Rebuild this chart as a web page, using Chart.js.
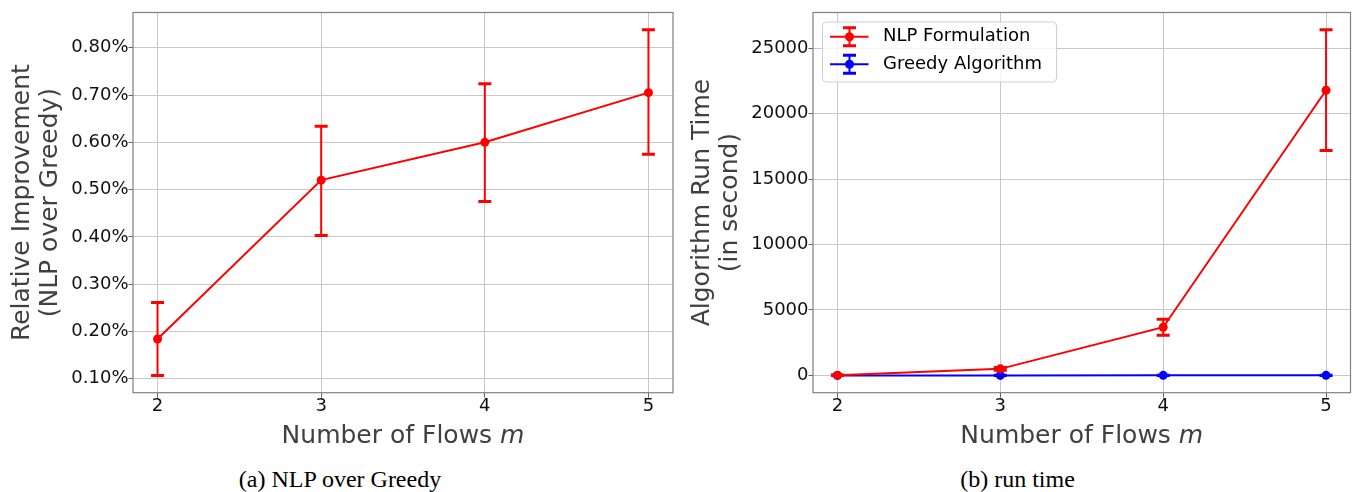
<!DOCTYPE html>
<html>
<head>
<meta charset="utf-8">
<script src="https://cdn.jsdelivr.net/npm/chart.js@4.4.0/dist/chart.umd.min.js"></script>
<style>
  body { margin: 0; background: #fff; width: 1355px; height: 492px; position: relative; overflow: hidden; }
  canvas { position: absolute; top: 0; }
  #improvement { left: 0; }
  #runtime { left: 680px; }
  .caption { position: absolute; top: 467px; line-height: 24px; font-family: 'Liberation Serif', serif; font-size: 24px; text-align: center; color: #000; }
</style>
</head>
<body>
<canvas id="improvement" width="680" height="455"></canvas>
<canvas id="runtime" width="675" height="455"></canvas>
<div class="caption" style="left:0;width:680px">(a) NLP over Greedy</div>
<div class="caption" style="left:680px;width:675px">(b) run time</div>
<script>
'use strict';

// number of flows m
const flows = [2, 3, 4, 5];

// (a) relative improvement, in percent
const improvement = [0.184, 0.520, 0.600, 0.705];
const improvementLow = [0.107, 0.403, 0.475, 0.575];
const improvementHigh = [0.261, 0.634, 0.724, 0.838];
const improvementTicks = [0.1, 0.2, 0.3, 0.4, 0.5, 0.6, 0.7, 0.8];

// (b) run time, seconds
const nlpTime = [15, 500, 3680, 21780];
const nlpLow = [0, 390, 3060, 17180];
const nlpHigh = [30, 610, 4290, 26400];
const greedyTime = [2, 3, 5, 8];
const greedyLow = [0, 0, 0, 0];
const greedyHigh = [4, 6, 10, 16];
const timeTicks = [0, 5000, 10000, 15000, 20000, 25000];

const FONT = 'DejaVu Sans';
const TITLE_COLOR = '#404040';
const xLabel = 'Number of Flows ';
const xVar = 'm';

function points(ys) {
    return flows.map((x, i) => ({ x: x, y: ys[i] }));
}

// vertical error bars with caps, drawn right after their own dataset
const errorBars = {
    id: 'errorBars',
    afterDatasetDraw(chart, args) {
        const ds = chart.data.datasets[args.index];
        if (!ds.errLow) return;
        const ctx = chart.ctx;
        const sx = chart.scales.x, sy = chart.scales.y;
        ctx.save();
        ctx.strokeStyle = ds.borderColor;
        ds.data.forEach((p, i) => {
            const px = sx.getPixelForValue(p.x);
            const top = sy.getPixelForValue(ds.errHigh[i]);
            const bot = sy.getPixelForValue(ds.errLow[i]);
            ctx.lineWidth = 2;
            ctx.beginPath();
            ctx.moveTo(px, top);
            ctx.lineTo(px, bot);
            ctx.stroke();
            ctx.lineWidth = 3;
            ctx.beginPath();
            ctx.moveTo(px - 6.5, top); ctx.lineTo(px + 6.5, top);
            ctx.moveTo(px - 6.5, bot); ctx.lineTo(px + 6.5, bot);
            ctx.stroke();
        });
        ctx.restore();
    }
};

// box around the plot + x axis title with italic m
const frameAndTitle = {
    id: 'frameAndTitle',
    afterDraw(chart) {
        const ctx = chart.ctx;
        const a = chart.chartArea;
        ctx.save();
        ctx.strokeStyle = '#808080';
        ctx.lineWidth = 1.2;
        ctx.strokeRect(a.left, a.top, a.right - a.left, a.bottom - a.top);

        ctx.font = '25px "' + FONT + '"';
        const w1 = ctx.measureText(xLabel).width;
        ctx.font = 'oblique 25px "' + FONT + '"';
        const w2 = ctx.measureText(xVar).width;
        const x = (a.left + a.right) / 2 - (w1 + w2) / 2;
        const y = chart.height - 18.6;
        ctx.fillStyle = TITLE_COLOR;
        ctx.textBaseline = 'middle';
        ctx.textAlign = 'left';
        ctx.font = '25px "' + FONT + '"';
        ctx.fillText(xLabel, x, y);
        ctx.font = 'oblique 25px "' + FONT + '"';
        ctx.fillText(xVar, x + w1, y);
        ctx.restore();
    }
};

// matplotlib style legend in the upper left corner of the plot
const boxLegend = {
    id: 'boxLegend',
    afterDraw(chart) {
        const ctx = chart.ctx;
        const a = chart.chartArea;
        const x0 = a.left + 9.5, y0 = a.top + 9.5, w = 234, h = 60;
        ctx.save();
        ctx.beginPath();
        ctx.roundRect(x0, y0, w, h, 4);
        ctx.fillStyle = 'rgba(255,255,255,0.8)';
        ctx.fill();
        ctx.strokeStyle = '#d0d0d0';
        ctx.lineWidth = 1;
        ctx.stroke();
        chart.data.datasets.forEach((ds, i) => {
            const cy = y0 + 14.7 + i * 27.6;
            const mx = x0 + 27;
            ctx.strokeStyle = ds.borderColor;
            ctx.fillStyle = ds.borderColor;
            ctx.lineWidth = 2;
            ctx.beginPath();
            ctx.moveTo(x0 + 7.5, cy); ctx.lineTo(x0 + 46, cy);
            ctx.moveTo(mx, cy - 9); ctx.lineTo(mx, cy + 9);
            ctx.stroke();
            ctx.lineWidth = 3;
            ctx.beginPath();
            ctx.moveTo(mx - 6.5, cy - 9); ctx.lineTo(mx + 6.5, cy - 9);
            ctx.moveTo(mx - 6.5, cy + 9); ctx.lineTo(mx + 6.5, cy + 9);
            ctx.stroke();
            ctx.beginPath();
            ctx.arc(mx, cy, 4.5, 0, Math.PI * 2);
            ctx.fill();
            ctx.fillStyle = '#000';
            ctx.font = '18px "' + FONT + '"';
            ctx.textBaseline = 'middle';
            ctx.fillText(ds.label, x0 + 60.5, cy);
        });
        ctx.restore();
    }
};

function series(label, color, ys, lo, hi) {
    return {
        label: label,
        data: points(ys),
        errLow: lo,
        errHigh: hi,
        borderColor: color,
        backgroundColor: color,
        borderWidth: 2,
        pointRadius: 4.5,
        pointBorderWidth: 0,
        tension: 0
    };
}

function makeOptions(yMin, yMax, yTicks, yFmt, yTitle, padRight) {
    return {
        responsive: false,
        animation: false,
        events: [],
        layout: { padding: { left: 0, top: 12.5, right: padRight, bottom: 0 } },
        plugins: { legend: { display: false }, tooltip: { enabled: false } },
        scales: {
            x: {
                type: 'linear',
                min: 1.85,
                max: 5.15,
                afterBuildTicks: s => { s.ticks = flows.map(v => ({ value: v })); },
                afterFit: s => { s.height = 62.3; },
                grid: { color: '#c8c8c8', lineWidth: 1, tickColor: '#666', tickLength: 5 },
                border: { display: false },
                ticks: {
                    padding: 0,
                    color: '#111',
                    font: { family: FONT, size: 18, lineHeight: 1 },
                    callback: v => String(v)
                }
            },
            y: {
                min: yMin,
                max: yMax,
                afterBuildTicks: s => { s.ticks = yTicks.map(v => ({ value: v })); },
                afterFit: s => { s.width = 133; },
                grid: { color: '#c8c8c8', lineWidth: 1, tickColor: '#666', tickLength: 4.5 },
                border: { display: false },
                ticks: {
                    padding: 0,
                    color: '#111',
                    font: { family: FONT, size: 18 },
                    callback: yFmt
                },
                title: {
                    display: true,
                    text: yTitle,
                    color: TITLE_COLOR,
                    font: { family: FONT, size: 25, lineHeight: 1.1 },
                    padding: { top: 9, bottom: 0 }
                }
            }
        }
    };
}

new Chart(document.getElementById('improvement').getContext('2d'), {
    type: 'line',
    data: {
        datasets: [series('NLP over Greedy', '#ff0000', improvement, improvementLow, improvementHigh)]
    },
    options: makeOptions(0.0705, 0.8745, improvementTicks, v => v.toFixed(2) + '%',
        ['Relative Improvement', '(NLP over Greedy)'], 7),
    plugins: [errorBars, frameAndTitle]
});

new Chart(document.getElementById('runtime').getContext('2d'), {
    type: 'line',
    data: {
        datasets: [
            series('NLP Formulation', '#ff0000', nlpTime, nlpLow, nlpHigh),
            series('Greedy Algorithm', '#0000ff', greedyTime, greedyLow, greedyHigh)
        ]
    },
    options: makeOptions(-1320, 27720, timeTicks, v => String(v),
        ['Algorithm Run Time', '(in second)'], 1),
    plugins: [errorBars, frameAndTitle, boxLegend]
});
</script>
</body>
</html>
